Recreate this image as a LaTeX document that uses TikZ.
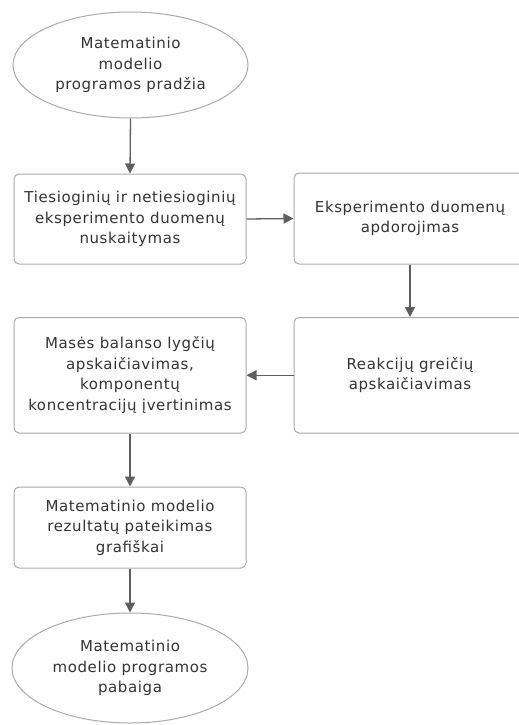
\documentclass[tikz,border=0pt]{standalone}
\usepackage{fontspec}
\setmainfont{DejaVu Sans}[LetterSpace=4.0]
\usetikzlibrary{arrows.meta,shapes.geometric}
\definecolor{txt}{HTML}{333333}
\definecolor{edge}{HTML}{AAAAAA}
\definecolor{flow}{HTML}{5E5E5E}
\tikzset{
  every node/.style={font=\fontsize{15}{20.5}\selectfont, text=txt, align=center},
  procbox/.style={draw=edge, line width=1pt, rounded corners=5pt, fill=white,
    minimum width=232pt, inner sep=0pt},
  terminal/.style={ellipse, draw=edge, line width=1pt, fill=white, inner sep=0pt},
  flowarrow/.style={draw=flow, line width=1.3pt,
    -{Triangle[length=10pt,width=10pt]}, color=flow},
}
\begin{document}
\begin{tikzpicture}[x=1pt,y=-1pt]
\useasboundingbox (0,0) rectangle (519,725);
\fill[white] (0,0) rectangle (519,725);
\begin{scope}
\clip (0,0) rectangle (519,725);

% terminals
\node[terminal, minimum width=235pt, minimum height=106pt] (start) at (130.5,65)
  {Matematinio\\modelio\\programos pradžia};
\node[terminal, minimum width=236pt, minimum height=110pt] (finish) at (130,668)
  {Matematinio\\modelio programos\\pabaiga};

% process steps
\node[procbox, minimum height=90pt] (read) at (130,219)
  {Tiesioginių ir netiesioginių\\eksperimento duomenų\\nuskaitymas};
\node[procbox, minimum height=91pt] (prep) at (410,218.5)
  {Eksperimento duomenų\\apdorojimas};
\node[procbox, minimum height=115.5pt] (rates) at (410,375.25)
  {Reakcijų greičių\\apskaičiavimas};
\node[procbox, minimum height=115.5pt] (mass) at (130,375.25)
  {Masės balanso lygčių\\apskaičiavimas,\\komponentų\\koncentracijų įvertinimas};
\node[procbox, minimum height=81pt] (plot) at (130,527.5)
  {Matematinio modelio\\rezultatų pateikimas\\grafiškai};

% flow
\draw[flowarrow] (start.south) -- (read.north);
\draw[flowarrow] (read.east) -- (prep.west);
\draw[flowarrow] (prep.south) -- (rates.north);
\draw[flowarrow] (rates.west) -- (mass.east);
\draw[flowarrow] (mass.south) -- (plot.north);
\draw[flowarrow] (plot.south) -- (finish.north);
\end{scope}
\end{tikzpicture}
\end{document}
